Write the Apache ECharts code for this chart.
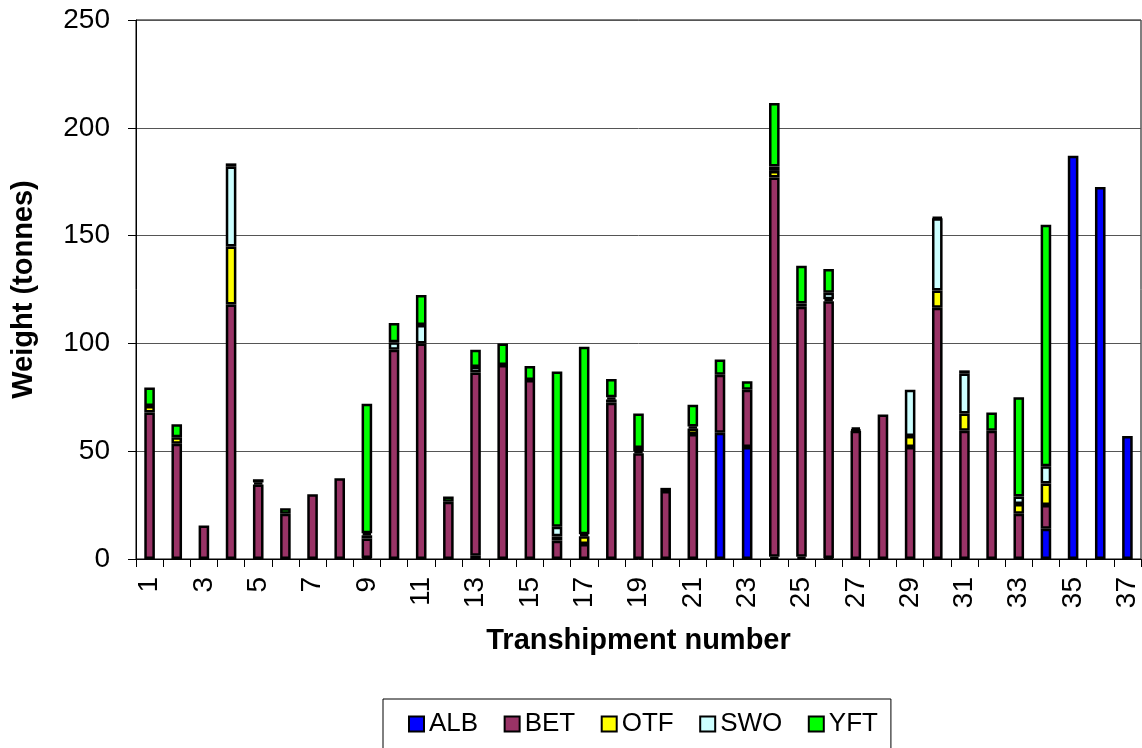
<!DOCTYPE html>
<html>
<head>
<meta charset="utf-8">
<script src="https://cdn.jsdelivr.net/npm/echarts@6/dist/echarts.min.js"></script>
<style>
  html, body { margin: 0; padding: 0; background: #fff; }
  #chart { width: 1142px; height: 748px; }
</style>
</head>
<body>
<div id="chart"></div>
<script>
'use strict'

// transhipment numbers 1..37
const transhipments = ['1','2','3','4','5','6','7','8','9','10','11','12','13','14','15','16','17','18','19',
  '20','21','22','23','24','25','26','27','28','29','30','31','32','33','34','35','36','37'];

// weight (tonnes) per species
const alb = [0,0,0,0,0,0,0,0,0.5,0,0,0,1.5,0,0,0,0,0,0,0,0,58.5,52,1,1,0.5,0,0,0,0,0,0,0,14,187,172.5,57];
const bet = [68,53.5,15.5,118,34.5,21,30,37.5,9,97,100,26.5,85,90,83,8.5,7,72.5,49,31.5,58,27,26.5,176,116,119,59.5,67,52,116.5,59.5,59.5,21,11,0,0,0];
const otf = [3,3,0,27,1,0,0,0,1.5,0,0,0,0,0,0,2,3.5,1.5,1,0,2.5,0,0,3,0,1,0.5,0,5,8,8,0,4.5,10,0,0,0];
const swo = [0,0,0,37,0,0,0,0,1,3.5,8.5,0,2.5,0,0,4.5,1,1,1.5,0,1,0,0,2,1.5,3,0,0,21.5,33.5,18.5,0,3.5,8,0,0,0];
const yft = [8.5,6,0,1.5,1.5,2.5,0,0,60,9,14,2.5,8,10,6.5,72,87,8.5,16,1.5,10,7,4,29.5,17.5,11,1,0,0,0.5,1.5,8.5,46,112,0,0,0];

const species = [
  { name: 'ALB', data: alb, color: '#0000ff' },
  { name: 'BET', data: bet, color: '#993366' },
  { name: 'OTF', data: otf, color: '#ffff00' },
  { name: 'SWO', data: swo, color: '#ccffff' },
  { name: 'YFT', data: yft, color: '#00ff00' }
];

const font = "'Liberation Sans', Arial, sans-serif";

let option = {
  animation: false,
  textStyle: { fontFamily: font, color: '#000' },
  grid: {
    left: 136,
    right: 1,
    top: 20,
    bottom: 189,
    show: true,
    borderColor: '#000',
    borderWidth: 1
  },
  legend: {
    left: 383,
    top: 699,
    padding: [12, 13, 40, 25],
    itemGap: 25.5,
    itemWidth: 15,
    itemHeight: 15,
    icon: 'rect',
    borderColor: '#000',
    borderWidth: 1,
    textStyle: { fontSize: 26, fontFamily: font, color: '#000' },
    data: species.map(s => s.name)
  },
  xAxis: {
    type: 'category',
    data: transhipments,
    name: 'Transhipment number',
    nameLocation: 'middle',
    nameGap: 67,
    nameTextStyle: { fontSize: 29, fontWeight: 'bold', fontFamily: font, color: '#000' },
    axisLine: { lineStyle: { color: '#000', width: 1 } },
    axisTick: { show: true, interval: 0, length: 8, lineStyle: { color: '#000' } },
    axisLabel: { interval: 1, rotate: 90, margin: 18, fontSize: 28, color: '#000', fontFamily: font },
    splitLine: { show: false }
  },
  yAxis: {
    type: 'value',
    min: 0,
    max: 250,
    interval: 50,
    name: 'Weight (tonnes)',
    nameLocation: 'middle',
    nameGap: 98,
    nameTextStyle: { fontSize: 29, fontWeight: 'bold', fontFamily: font, color: '#000' },
    axisLine: { show: true, lineStyle: { color: '#000', width: 1 } },
    axisTick: { show: true, length: 8, lineStyle: { color: '#000' } },
    axisLabel: { margin: 26, fontSize: 28, color: '#000', fontFamily: font },
    splitLine: { show: true, lineStyle: { color: '#555', width: 1 } }
  },
  series: species.map(s => ({
    name: s.name,
    type: 'bar',
    stack: 'total',
    barWidth: '39%',
    data: s.data.map(v => v || null),
    itemStyle: { color: s.color, borderColor: '#000', borderWidth: 2.5 }
  }))
};

let myChart = echarts.init(document.getElementById('chart'));
myChart.setOption(option);
</script>
</body>
</html>
